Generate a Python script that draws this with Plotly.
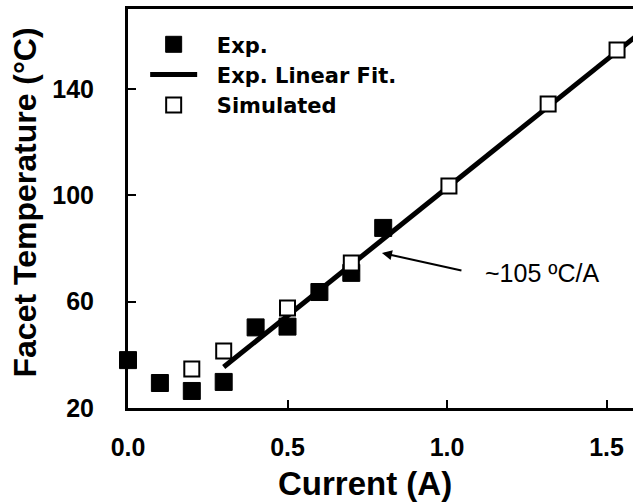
import plotly.graph_objects as go

# Data
exp_x = [0.0, 0.1, 0.2, 0.3, 0.4, 0.5, 0.6, 0.7, 0.8]
exp_y = [38.0, 29.4, 26.4, 29.8, 50.3, 50.6, 63.6, 70.8, 87.7]

sim_x = [0.2, 0.3, 0.5, 0.7, 1.006, 1.317, 1.533]
sim_y = [34.7, 41.4, 57.6, 74.5, 103.5, 134.3, 154.6]

fit_x = [0.3, 1.6]
fit_y = [35.4, 160.5]

x_ticks = [0.0, 0.5, 1.0, 1.5]
y_ticks = [20, 60, 100, 140]

FONT = "Liberation Sans"
WIDE = "DejaVu Sans"
PAD = "&nbsp;&nbsp;"

fig = go.Figure()

fig.add_trace(go.Scatter(
    x=fit_x, y=fit_y, mode="lines", name=PAD + "Exp. Linear Fit.",
    line=dict(color="black", width=5), legendrank=2, cliponaxis=True,
))
fig.add_trace(go.Scatter(
    x=exp_x, y=exp_y, mode="markers", name=PAD + "Exp.",
    marker=dict(symbol="square", size=17, color="black",
                line=dict(color="black", width=1)),
    legendrank=1, cliponaxis=False,
))
fig.add_trace(go.Scatter(
    x=sim_x, y=sim_y, mode="markers", name=PAD + "Simulated",
    marker=dict(symbol="square", size=15, color="white",
                line=dict(color="black", width=2)),
    legendrank=3, cliponaxis=False,
))

fig.update_layout(
    width=633, height=504,
    margin=dict(l=128, r=0, t=9, b=96),
    paper_bgcolor="white", plot_bgcolor="white",
    font=dict(family=FONT, color="black"),
    showlegend=True,
    legend=dict(
        x=0.034, y=0.962, xanchor="left", yanchor="top",
        bgcolor="rgba(0,0,0,0)", borderwidth=0,
        font=dict(size=21, weight="bold", family=WIDE),
        itemwidth=47, tracegroupgap=0,
    ),
    xaxis=dict(
        range=[0, 1.583], showgrid=False, zeroline=False,
        showline=True, linecolor="black", linewidth=3, mirror=True,
        ticks="inside", ticklen=8, tickwidth=2, tickcolor="black",
        tickvals=x_ticks, tickformat=".1f",
        tickfont=dict(size=25, weight="bold", family=FONT),
        ticklabelstandoff=15,
    ),
    yaxis=dict(
        range=[20, 170], showgrid=False, zeroline=False,
        showline=True, linecolor="black", linewidth=3, mirror=False,
        ticks="inside", ticklen=8, tickwidth=2, tickcolor="black",
        tickvals=y_ticks,
        tickfont=dict(size=25, weight="bold", family=FONT),
        ticklabelstandoff=26,
    ),
    annotations=[
        dict(text="Current (A)", xref="paper", yref="paper",
             x=0.469, y=-0.19, xanchor="center", yanchor="middle",
             showarrow=False,
             font=dict(size=33, weight="bold", family=FONT)),
        dict(text="Facet Temperature (°C)", xref="paper", yref="paper",
             x=-0.204, y=0.515, xanchor="center", yanchor="middle",
             showarrow=False, textangle=-90,
             font=dict(size=32, weight="bold", family=FONT)),
        dict(text="", x=0.796, y=78.3, xref="x", yref="y",
             showarrow=True, ax=81, ay=18, arrowhead=2, arrowsize=1,
             arrowwidth=2, arrowcolor="black"),
        dict(text="~105 ºC/A", x=1.298, y=70.75, xref="x", yref="y",
             showarrow=False, font=dict(size=25, family=FONT)),
    ],
)

fig.write_html("out.html", config={"displayModeBar": False},
               post_script="document.body.style.margin='0px';")
